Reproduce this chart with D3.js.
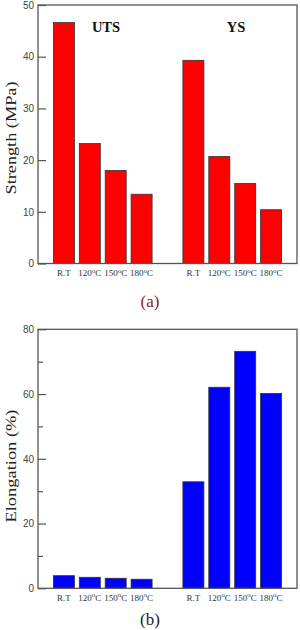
<!DOCTYPE html>
<html><head><meta charset="utf-8">
<script src="https://cdn.jsdelivr.net/npm/d3@7"></script>
<style>
html,body{margin:0;padding:0;background:#fff;}
svg{display:block;}
</style></head>
<body>
<svg id="c" width="300" height="630"></svg>
<script>
// ---- data ----
const tempLabels = ["R.T", "120", "150", "180"];
const groupNames = ["UTS", "YS"];
const utsValues = [46.6, 23.2, 18.0, 13.4];
const ysValues = [39.3, 20.7, 15.5, 10.4];
const elongGroup1 = [3.9, 3.4, 3.1, 2.8];
const elongGroup2 = [32.9, 62.1, 73.2, 60.2];
const strengthTicks = [0, 10, 20, 30, 40, 50];
const elongTicks = [0, 20, 40, 60, 80];
const elongMinorTicks = [10, 30, 50, 70];
// slot positions of bars (group 1 slots 1-4, group 2 slots 6-9)
const slotsG1 = [1, 2, 3, 4];
const slotsG2 = [6, 7, 8, 9];

const svg = d3.select("#c");
const L = 38, R = 297, barW = 21;
const axisColor = "#555";
const serif = "'Liberation Serif', 'Times New Roman', serif";

function panel(cfg) {
  const x = d3.scaleLinear().domain([0, 10]).range([L, R]);
  const y = d3.scaleLinear().domain([0, cfg.max]).range([cfg.bottom, cfg.top]);
  const g = svg.append("g");

  const data = [];
  cfg.groups.forEach((vals, gi) => {
    vals.forEach((v, i) => data.push({slot: gi === 0 ? slotsG1[i] : slotsG2[i], v, label: tempLabels[i]}));
  });
  g.selectAll("rect.bar").data(data).join("rect")
    .attr("class", "bar")
    .attr("x", d => x(d.slot) - barW / 2)
    .attr("width", barW)
    .attr("y", d => y(d.v))
    .attr("height", d => y(0) - y(d.v))
    .attr("fill", cfg.color)
    .attr("stroke", "#333")
    .attr("stroke-width", 0.8);

  g.append("rect")
    .attr("x", L).attr("y", cfg.top)
    .attr("width", R - L).attr("height", cfg.bottom - cfg.top)
    .attr("fill", "none").attr("stroke", axisColor).attr("stroke-width", 1.3);

  const ax = g.append("g").attr("transform", `translate(${L},0)`)
    .call(d3.axisLeft(y).tickValues(cfg.ticks).tickSize(-8).tickPadding(4).tickFormat(d3.format("d")));
  ax.select(".domain").remove();
  ax.selectAll("line").attr("stroke", axisColor).attr("stroke-width", 1.2);
  ax.selectAll("text").attr("font-family", "'Liberation Sans', Arial, sans-serif")
    .attr("font-size", 10).attr("fill", "#444");
  if (cfg.minor) {
    const mx = g.append("g").attr("transform", `translate(${L},0)`)
      .call(d3.axisLeft(y).tickValues(cfg.minor).tickSize(-5).tickFormat(""));
    mx.select(".domain").remove();
    mx.selectAll("line").attr("stroke", axisColor).attr("stroke-width", 1.2);
  }

  const xl = g.selectAll("text.xl").data(data).join("text")
    .attr("class", "xl")
    .attr("x", d => x(d.slot))
    .attr("y", cfg.bottom + 12.5)
    .attr("text-anchor", "middle")
    .attr("font-family", serif)
    .attr("font-size", 9)
    .attr("fill", "#333");
  xl.each(function(d) {
    const t = d3.select(this);
    if (d.label === "R.T") { t.text("R.T"); return; }
    t.append("tspan").text(d.label);
    t.append("tspan").attr("dy", -3.5).attr("font-size", 7).text("o");
    t.append("tspan").attr("dy", 3.5).text("C");
  });

  g.append("text")
    .attr("transform", `translate(${cfg.titleX},${cfg.titleY}) rotate(-90)`)
    .attr("text-anchor", "middle")
    .attr("font-family", serif)
    .attr("font-size", 15)
    .attr("textLength", 113).attr("lengthAdjust", "spacingAndGlyphs")
    .attr("fill", "#222")
    .text(cfg.title);

  g.append("text")
    .attr("x", 150).attr("y", cfg.capY)
    .attr("text-anchor", "middle")
    .attr("font-family", serif)
    .attr("font-size", 17)
    .attr("fill", cfg.capColor)
    .text(cfg.caption);

  return {x, y, g};
}

const a = panel({
  top: 5, bottom: 263.5, max: 50, ticks: strengthTicks, color: "#ff0000",
  groups: [utsValues, ysValues], title: "Strength (MPa)", titleX: 16, titleY: 138,
  caption: "(a)", capY: 307, capColor: "#8b1a1a"
});
a.g.selectAll("text.gn").data(groupNames).join("text")
  .attr("class", "gn")
  .attr("x", (d, i) => i === 0 ? 106 : 236)
  .attr("y", 32)
  .attr("text-anchor", "middle")
  .attr("font-family", serif)
  .attr("font-weight", "bold")
  .attr("font-size", 14.5)
  .attr("fill", "#111")
  .text(d => d);

panel({
  top: 329.3, bottom: 588.3, max: 80, ticks: elongTicks, minor: elongMinorTicks, color: "#0000ff",
  groups: [elongGroup1, elongGroup2], title: "Elongation (%)", titleX: 16, titleY: 466,
  caption: "(b)", capY: 625, capColor: "#222"
});
</script>
</body></html>
